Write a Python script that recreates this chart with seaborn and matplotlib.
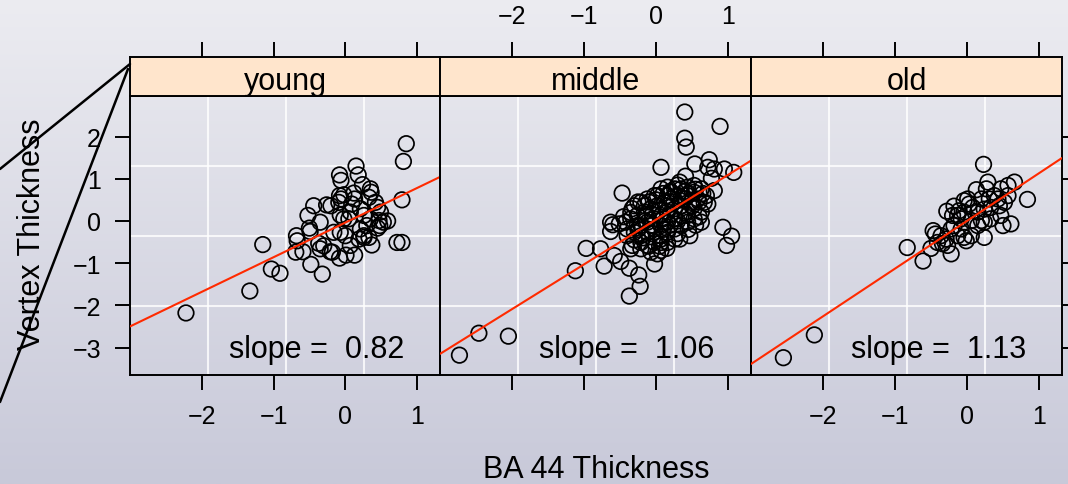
import numpy as np
import pandas as pd
import matplotlib.pyplot as plt
from matplotlib.lines import Line2D
import seaborn as sns

# ---- data ----
groups = ["young", "middle", "old"]

young_x = [-2.22, -1.33, -1.15, -1.03, -0.91, -0.48, -0.32, -0.69, -0.59, -0.67,
           -0.68, -0.52, -0.44, -0.35, -0.50, -0.49, -0.37, -0.35, -0.21, -0.18,
           -0.26, -0.20, -0.08, -0.06, 0.15, 0.18, 0.24, -0.08, -0.06, -0.02,
           0.12, 0.13, 0.35, 0.36, 0.33, -0.16, -0.07, 0.00, 0.07, -0.08,
           0.01, 0.13, -0.07, -0.02, 0.07, 0.21, 0.26, 0.19, 0.26, 0.33,
           0.37, 0.42, 0.45, 0.49, 0.53, 0.48, 0.45, 0.59, 0.35, 0.30,
           0.21, 0.72, 0.79, 0.79, 0.81, 0.85, 0.05, 0.09, 0.26, -0.30,
           0.47, -0.09]
young_y = [-2.18, -1.66, -0.56, -1.14, -1.24, -1.03, -1.26, -0.74, -0.73, -0.47,
           -0.35, 0.13, 0.36, -0.03, -0.17, -0.25, -0.53, -0.66, -0.73, -0.74,
           0.38, 0.36, 1.09, 0.96, 1.30, 1.09, 0.86, 0.60, 0.52, 0.62,
           0.66, 0.52, 0.76, 0.68, 0.56, -0.27, -0.27, -0.35, -0.58, -0.88,
           -0.81, -0.81, 0.14, 0.05, 0.21, 0.29, 0.13, -0.43, -0.39, -0.39,
           -0.57, 0.44, 0.32, 0.21, -0.03, -0.11, -0.17, 0.00, 0.05, -0.11,
           -0.19, -0.51, -0.51, 0.50, 1.41, 1.83, 0.05, 0.40, -0.35, -0.59,
           0.01, 0.44]

middle_x = [-2.73, -2.46, -2.05, -1.12, -0.97, -0.77, -0.72, -0.58, -0.49, -0.47,
            -0.63, -0.60, -0.51, -0.63, -0.37, -0.24, -0.22, -0.37, -0.02, 0.07,
            0.40, 0.40, 0.42, 0.89, 0.54, 0.74, 0.72, 0.81, 0.95, 1.08,
            0.77, 0.81, 0.41, 0.93, 1.05, 0.98, 0.33, 0.47, -0.40, -0.33,
            -0.35, -0.21, -0.07, 0.02, 0.07, 0.16, 0.26, -0.30, -0.21, -0.12,
            -0.02, 0.07, 0.16, 0.26, 0.35, 0.44, 0.53, 0.63, -0.26, -0.16,
            -0.07, 0.02, 0.12, 0.21, 0.30, 0.40, 0.49, 0.58, 0.70, 0.72,
            -0.21, -0.12, -0.02, 0.07, 0.16, 0.26, 0.35, 0.44, 0.53, 0.63,
            0.53, -0.30, -0.21, -0.12, -0.02, 0.07, 0.16, 0.26, 0.35, 0.44,
            -0.02, 0.07, -0.21, -0.12, 0.07, 0.16, -0.42, -0.40, -0.33, 0.02,
            0.21, 0.12, -0.16, -0.07, 0.26, 0.63, 0.67, 0.35, 0.44, -0.12,
            -0.26, 0.07, 0.33, 0.53, 0.16,
            -0.35, -0.25, -0.15, -0.05, 0.05, 0.15, 0.25, 0.35, 0.45, 0.55,
            -0.30, -0.18, -0.05, 0.10, 0.20, 0.30, 0.40, 0.50, 0.60, 0.65,
            -0.10, 0.00, 0.10, 0.20, 0.30, 0.40, -0.25, -0.35, -0.45, 0.05,
            0.15, -0.10, 0.30, 0.45, 0.55, 0.60, 0.10, -0.05, 0.20, 0.35]
middle_y = [-3.18, -2.66, -2.73, -1.18, -0.65, -0.66, -1.07, -0.82, -0.96, 0.66,
            -0.03, -0.09, -0.07, -0.25, -1.12, -1.28, -1.55, -1.78, -1.02, 1.27,
            2.58, 1.96, 1.75, 2.24, 1.35, 1.45, 1.27, 1.23, 1.23, 1.15,
            1.01, 0.72, 1.06, -0.15, -0.36, -0.58, -0.43, -0.35, -0.35, -0.58,
            -0.66, -0.66, -0.74, -0.78, -0.70, -0.51, -0.43, 0.36, 0.44, 0.52,
            0.60, 0.76, 0.80, 0.76, 0.76, 0.80, 0.68, 0.76, 0.13, 0.21,
            0.29, 0.36, 0.44, 0.52, 0.60, 0.52, 0.44, 0.52, 0.60, 0.40,
            -0.11, -0.03, 0.05, 0.13, 0.21, 0.29, 0.13, 0.13, 0.05, -0.03,
            0.29, -0.27, -0.35, -0.27, -0.19, -0.11, -0.03, 0.05, -0.11, -0.03,
            -0.51, -0.43, -0.51, -0.58, -0.35, -0.27, -0.03, -0.19, 0.29, 0.60,
            0.68, -0.03, 0.36, -0.11, -0.19, 0.21, 0.44, 0.36, 0.60, 0.13,
            -0.11, -0.51, 0.92, 0.84, 0.60,
            0.05, -0.20, 0.00, 0.15, 0.25, 0.35, 0.45, 0.55, 0.65, 0.75,
            -0.45, -0.40, -0.30, -0.20, -0.10, 0.00, 0.20, 0.35, 0.45, 0.65,
            0.45, 0.50, 0.65, 0.70, 0.85, 0.70, 0.45, 0.20, 0.10, -0.60,
            -0.65, -0.60, -0.30, -0.20, -0.10, 0.10, 0.05, -0.10, 0.15, 0.35]

old_x = [-2.55, -2.12, -0.83, -0.61, -0.50, 0.23, 0.29, 0.66, 0.84, 0.61,
         0.50, 0.24, -0.47, -0.44, -0.41, -0.34, -0.29, -0.22, -0.27, -0.28,
         -0.18, -0.13, -0.04, 0.01, 0.08, 0.13, 0.27, 0.38, 0.47, 0.57,
         0.45, 0.33, 0.20, 0.24, -0.18, -0.08, -0.01, -0.04, 0.06, -0.13,
         -0.22, 0.15, 0.43, 0.52, 0.47, 0.24, 0.06, -0.08, 0.03, 0.33,
         -0.20, -0.36, 0.20, 0.57, 0.15, -0.11, -0.04, 0.31]
old_y = [-3.24, -2.70, -0.63, -0.95, -0.65, 1.34, 0.92, 0.92, 0.51, -0.07,
         -0.11, -0.39, -0.23, -0.31, -0.51, -0.54, -0.43, -0.78, -0.58, 0.23,
         0.35, 0.13, 0.21, 0.52, 0.32, 0.74, 0.76, 0.60, 0.76, 0.60,
         0.36, 0.05, 0.01, 0.28, -0.11, -0.19, -0.47, -0.39, -0.35, -0.35,
         -0.19, 0.21, 0.52, 0.44, 0.13, -0.03, 0.01, 0.05, 0.40, 0.32,
         0.13, -0.35, 0.52, 0.84, -0.11, 0.24, 0.48, 0.52]

slopes = [0.82, 1.06, 1.13]
intercepts = [-0.04, 0.03, 0.00]

x_ticks = [-2, -1, 0, 1]
y_ticks = [-3, -2, -1, 0, 1, 2]

df = pd.concat([
    pd.DataFrame({"BA44": young_x, "vertex": young_y, "age": "young"}),
    pd.DataFrame({"BA44": middle_x, "vertex": middle_y, "age": "middle"}),
    pd.DataFrame({"BA44": old_x, "vertex": old_y, "age": "old"}),
])

sns.set_style("white")
plt.rcParams["font.family"] = ["Liberation Sans", "DejaVu Sans"]
plt.rcParams["axes.unicode_minus"] = True
plt.rcParams["text.color"] = "black"
plt.rcParams["xtick.color"] = "black"
plt.rcParams["ytick.color"] = "black"
plt.rcParams["xtick.labelcolor"] = "black"
plt.rcParams["ytick.labelcolor"] = "black"

W, H = 1068, 485
fig = plt.figure(figsize=(W / 100, H / 100), dpi=100)

# gradient backdrop
bg = fig.add_axes([0, 0, 1, 1], zorder=-10)
top = np.array([236, 236, 241]) / 255
bot = np.array([200, 201, 217]) / 255
t = np.linspace(0, 1, 256)[:, None, None]
bg.imshow(top + (bot - top) * t, aspect="auto", extent=[0, 1, 0, 1])
bg.set_axis_off()

xlim = (-3.0, 1.32)
ylim = (-3.65, 2.96)
lefts = [130, 440, 751]
widths = [310, 311, 311]
ptop, pbot, stop = 97, 376, 58

for i, g in enumerate(groups):
    l = lefts[i] / W
    w = widths[i] / W
    ax = fig.add_axes([l, 1 - pbot / H, w, (pbot - ptop) / H])
    ax.set_facecolor("none")
    sub = df[df["age"] == g]
    # background grid
    for gx in [-1.916, -0.828, 0.256]:
        ax.axvline(gx, color="white", alpha=0.8, lw=1.5, zorder=0)
    for gy in [1.31, -0.35, -2.01]:
        ax.axhline(gy, color="white", alpha=0.8, lw=1.5, zorder=0)
    sns.scatterplot(data=sub, x="BA44", y="vertex", ax=ax, marker="o",
                    s=125, facecolor="none", edgecolor="black", linewidth=1.25,
                    zorder=3)
    ax.axline((0, intercepts[i]), slope=slopes[i], color="#ff2a00", lw=1.5, zorder=4)
    ax.text(-0.4, -3.22, "slope =  %.2f" % slopes[i], ha="center", va="baseline",
            fontsize=22, color="black", zorder=5)
    ax.set_xlim(*xlim)
    ax.set_ylim(*ylim)
    ax.set_xticks(x_ticks)
    ax.set_yticks(y_ticks)
    ax.set_xlabel("")
    ax.set_ylabel("")
    for sp in ax.spines.values():
        sp.set_color("black")
        sp.set_linewidth(1.4)
    ax.tick_params(direction="out", length=10.8, width=1.4, color="black",
                   labelsize=18, pad=10, labelcolor="black",
                   bottom=True, labelbottom=(i != 1),
                   left=(i == 0), labelleft=(i == 0),
                   right=(i == 2), labelright=False, top=False)

    # strip
    st = fig.add_axes([l, 1 - ptop / H, w, (ptop - stop) / H])
    st.set_facecolor("#ffe5cc")
    st.set_xlim(*xlim)
    st.set_xticks(x_ticks)
    st.set_yticks([])
    for sp in st.spines.values():
        sp.set_color("black")
        sp.set_linewidth(1.4)
    st.tick_params(axis="x", direction="out", length=10.8, width=1.4, color="black",
                   labelsize=18, pad=10, labelcolor="black", top=True, bottom=False,
                   labeltop=(i == 1), labelbottom=False)
    st.text(0.5, 0.19, g, transform=st.transAxes, ha="center", va="baseline",
            fontsize=22, color="black")

fig.text(596 / W, 1 - 478 / H, "BA 44 Thickness", ha="center", va="baseline",
         fontsize=22, color="black")
fig.text(40 / W, 1 - 234 / H, "Vertex Thickness", rotation=90, ha="center",
         va="baseline", rotation_mode="anchor", fontsize=22, color="black")

# callout lines at the left edge
fig.add_artist(Line2D([130 / W, 0], [1 - 65 / H, 1 - 170 / H], color="black", lw=1.8))
fig.add_artist(Line2D([128 / W, 0], [1 - 70 / H, 1 - 403 / H], color="black", lw=1.8))

fig.savefig("out.png", dpi=100)
